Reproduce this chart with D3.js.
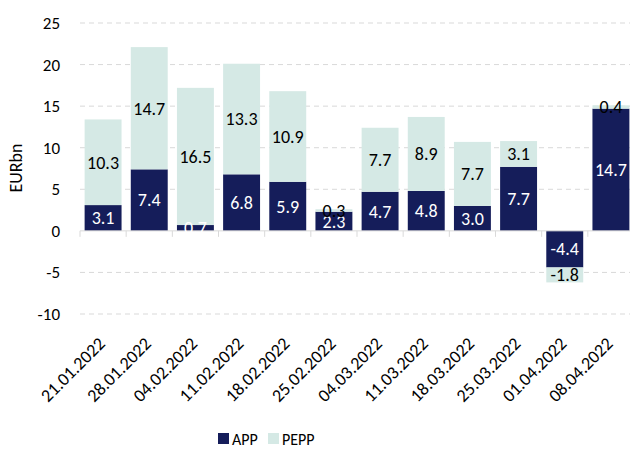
<!DOCTYPE html>
<html>
<head>
<meta charset="utf-8">
<script src="https://cdn.jsdelivr.net/npm/d3@7"></script>
<style>
  body { margin: 0; background: #fff; }
  svg { font-family: Carlito, Lato, "Open Sans", sans-serif; }
</style>
</head>
<body>
<svg id="chart" width="630" height="449"></svg>
<script>
// *************** DATA ***************
const dates = ["21.01.2022", "28.01.2022", "04.02.2022", "11.02.2022", "18.02.2022", "25.02.2022",
               "04.03.2022", "11.03.2022", "18.03.2022", "25.03.2022", "01.04.2022", "08.04.2022"];
const app  = [3.1, 7.4, 0.7, 6.8, 5.9, 2.3, 4.7, 4.8, 3.0, 7.7, -4.4, 14.7];
const pepp = [10.3, 14.7, 16.5, 13.3, 10.9, 0.3, 7.7, 8.9, 7.7, 3.1, -1.8, 0.4];
const seriesNames = ["APP", "PEPP"];
const yTicks = [-10, -5, 0, 5, 10, 15, 20, 25];

// *************** CONSTANTS ***************
const colors = { APP: "#151d5a", PEPP: "#d5e9e5" };
const labelColors = { APP: "#ffffff", PEPP: "#000000" };

const svg = d3.select("#chart");

const x = d3.scaleBand()
            .domain(dates)
            .range([80, 634])
            .paddingInner(0.2)
            .paddingOuter(0.1);

const y = d3.scaleLinear()
            .domain([-10, 25])
            .range([314, 23]);

const rows = dates.map((d, i) => ({ date: d, APP: app[i], PEPP: pepp[i] }));

const stacked = d3.stack()
                  .keys(seriesNames)
                  .offset(d3.stackOffsetDiverging)(rows);

// *************** GRID ***************
svg.append("g")
   .selectAll("line")
   .data(yTicks.filter(t => t !== 0))
   .join("line")
   .attr("x1", 80)
   .attr("x2", 630)
   .attr("y1", d => y(d))
   .attr("y2", d => y(d))
   .attr("stroke", "#d9d9d9")
   .attr("stroke-dasharray", "5,4");

// y tick labels
svg.append("g")
   .selectAll("text")
   .data(yTicks)
   .join("text")
   .attr("x", 60)
   .attr("y", d => y(d))
   .attr("dy", "0.35em")
   .attr("text-anchor", "end")
   .attr("font-size", "17px")
   .attr("fill", "#000")
   .text(d => d);

svg.append("text")
   .attr("transform", `translate(22,168) rotate(-90)`)
   .attr("text-anchor", "middle")
   .attr("font-size", "18px")
   .attr("fill", "#000")
   .text("EURbn");

// *************** BARS ***************
const layers = svg.append("g")
                  .selectAll("g")
                  .data(stacked)
                  .join("g")
                  .attr("fill", d => colors[d.key]);

layers.selectAll("rect")
      .data(d => d)
      .join("rect")
      .attr("x", d => x(d.data.date))
      .attr("width", x.bandwidth())
      .attr("y", d => y(Math.max(d[0], d[1])))
      .attr("height", d => Math.abs(y(d[0]) - y(d[1])));

// zero axis with category ticks
const axisG = svg.append("g");
axisG.append("line")
     .attr("x1", 80)
     .attr("x2", 630)
     .attr("y1", y(0))
     .attr("y2", y(0))
     .attr("stroke", "#d9d9d9");

axisG.selectAll("line.tick")
     .data(dates)
     .join("line")
     .attr("class", "tick")
     .attr("x1", d => x(d) - x.step() * x.paddingInner() / 2)
     .attr("x2", d => x(d) - x.step() * x.paddingInner() / 2)
     .attr("y1", y(0))
     .attr("y2", y(0) + 6)
     .attr("stroke", "#d9d9d9");

// data labels
stacked.forEach(s => {
  svg.append("g")
     .selectAll("text")
     .data(s)
     .join("text")
     .attr("x", d => x(d.data.date) + x.bandwidth() / 2)
     .attr("y", d => y((d[0] + d[1]) / 2))
     .attr("dy", "0.35em")
     .attr("text-anchor", "middle")
     .attr("font-size", "18px")
     .attr("fill", labelColors[s.key])
     .text(d => d.data[s.key].toFixed(1));
});

// x labels
svg.append("g")
   .selectAll("text")
   .data(dates)
   .join("text")
   .attr("transform", d => `translate(${x(d) + x.bandwidth() / 2 + 3},${y(0) + 114}) rotate(-45)`)
   .attr("text-anchor", "end")
   .attr("font-size", "18px")
   .attr("fill", "#000")
   .text(d => d);

// *************** LEGEND ***************
const legend = svg.append("g")
                  .attr("transform", "translate(218,433)");

const legendItems = legend.selectAll("g")
                          .data(seriesNames)
                          .join("g")
                          .attr("transform", (d, i) => `translate(${i * 50},0)`);

legendItems.append("rect")
           .attr("width", 11)
           .attr("height", 11)
           .attr("fill", d => colors[d]);

legendItems.append("text")
           .attr("x", 14)
           .attr("y", 6)
           .attr("dy", "0.35em")
           .attr("font-size", "16px")
           .attr("fill", "#000")
           .text(d => d);
</script>
</body>
</html>
